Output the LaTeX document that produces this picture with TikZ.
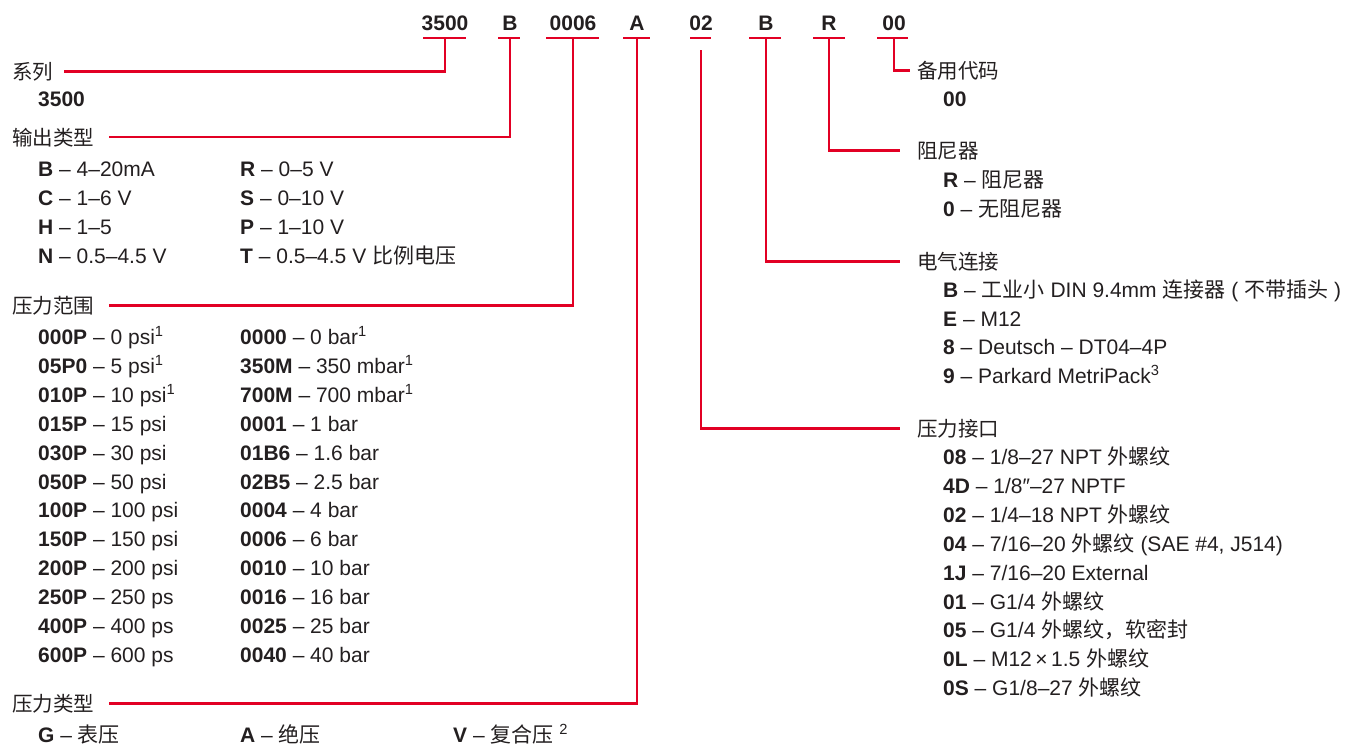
\documentclass[tikz,border=0pt]{standalone}
\usepackage{fontspec}
\setmainfont{Liberation Sans}
\newfontfamily\cjk{Noto Sans CJK SC}
\definecolor{lred}{RGB}{226,0,36}
\definecolor{ink}{RGB}{35,31,32}
\newcommand\kv[2]{\textbf{#1} -- #2}
\newcommand\sups[1]{\textsuperscript{#1}}
\begin{document}
\begin{tikzpicture}[x=1pt,y=-1pt,
  redline/.style={draw=lred,line width=2.6pt},
  txt/.style={anchor=base west,inner sep=0pt,text=ink,font=\fontsize{21}{24}\selectfont},
  hdr/.style={anchor=base west,inner sep=0pt,text=ink,font=\fontsize{20.5}{24}\selectfont\cjk},
  code/.style={anchor=base,inner sep=0pt,text=ink,font=\fontsize{21}{24}\selectfont\bfseries}]
\useasboundingbox (0,0) rectangle (1348,745);
% code row
\node[code] (c1) at (445,30) {3500};
\node[code] (c2) at (510,30) {B};
\node[code] (c3) at (573,30) {0006};
\node[code] (c4) at (637,30) {A};
\node[code] (c5) at (701,30) {02};
\node[code] (c6) at (766,30) {B};
\node[code] (c7) at (829,30) {R};
\node[code] (c8) at (894,30) {00};
\coordinate (s1) at (445,38);
\coordinate (s2) at (510,38);
\coordinate (s3) at (573,38);
\coordinate (s4) at (637,38);
\coordinate (s5) at (701,38);
\coordinate (s5b) at (701,50);
\coordinate (s6) at (766,38);
\coordinate (s7) at (829,38);
\coordinate (s8) at (894,38);
\draw[redline] ([xshift=-22pt]s1) -- ([xshift=21pt]s1);
\draw[redline] ([xshift=-12pt]s2) -- ([xshift=10pt]s2);
\draw[redline] ([xshift=-27pt]s3) -- ([xshift=26pt]s3);
\draw[redline] ([xshift=-14pt]s4) -- ([xshift=13pt]s4);
\draw[redline] ([xshift=-11pt]s5) -- ([xshift=10pt]s5);
\draw[redline] ([xshift=-17pt]s6) -- ([xshift=15pt]s6);
\draw[redline] ([xshift=-16pt]s7) -- ([xshift=16pt]s7);
\draw[redline] ([xshift=-17pt]s8) -- ([xshift=14pt]s8);
% left headers
\node[hdr] (h1) at (12,79) {系列};
\node[hdr] (h2) at (12,145) {输出类型};
\node[hdr] (h3) at (12,313) {压力范围};
\node[hdr] (h4) at (12,711) {压力类型};
% right headers
\node[hdr] (h8) at (917,78) {备用代码};
\node[hdr] (h7) at (917,158) {阻尼器};
\node[hdr] (h6) at (917,269) {电气连接};
\node[hdr] (h5) at (917,436) {压力接口};
% connectors
\draw[redline] (s1) |- ([xshift=11pt]h1.east);
\draw[redline] (s2) |- ([xshift=15pt]h2.east);
\draw[redline] (s3) |- ([xshift=15pt]h3.east);
\draw[redline] (s4) |- ([xshift=15pt]h4.east);
\draw[redline] (s5b) |- ([xshift=-17pt]h5.west);
\draw[redline] (s6) |- ([xshift=-17pt]h6.west);
\draw[redline] (s7) |- ([xshift=-17pt]h7.west);
\draw[redline] (s8) |- ([xshift=-7pt]h8.west);
% series
\node[txt] (a1) at (38,106.5) {\textbf{3500}};
% output type
\node[txt] (b1) at (38,176.5) {\kv{B}{4--20mA}};
\node[txt] (b2) at (38,205.5) {\kv{C}{1--6 V}};
\node[txt] (b3) at (38,234.5) {\kv{H}{1--5}};
\node[txt] (b4) at (38,263.5) {\kv{N}{0.5--4.5 V}};
\node[txt] (b5) at (240,176.5) {\kv{R}{0--5 V}};
\node[txt] (b6) at (240,205.5) {\kv{S}{0--10 V}};
\node[txt] (b7) at (240,234.5) {\kv{P}{1--10 V}};
\node[txt] (b8) at (240,263.5) {\kv{T}{0.5--4.5 V {\cjk 比例电压}}};
% pressure range
\node[txt] (p1) at (38,344.5) {\kv{000P}{0 psi\sups{1}}};
\node[txt] (p2) at (38,373.4) {\kv{05P0}{5 psi\sups{1}}};
\node[txt] (p3) at (38,402.3) {\kv{010P}{10 psi\sups{1}}};
\node[txt] (p4) at (38,431.2) {\kv{015P}{15 psi}};
\node[txt] (p5) at (38,460.1) {\kv{030P}{30 psi}};
\node[txt] (p6) at (38,489.0) {\kv{050P}{50 psi}};
\node[txt] (p7) at (38,517.9) {\kv{100P}{100 psi}};
\node[txt] (p8) at (38,546.8) {\kv{150P}{150 psi}};
\node[txt] (p9) at (38,575.7) {\kv{200P}{200 psi}};
\node[txt] (p10) at (38,604.6) {\kv{250P}{250 ps}};
\node[txt] (p11) at (38,633.5) {\kv{400P}{400 ps}};
\node[txt] (p12) at (38,662.4) {\kv{600P}{600 ps}};
\node[txt] (q1) at (240,344.5) {\kv{0000}{0 bar\sups{1}}};
\node[txt] (q2) at (240,373.4) {\kv{350M}{350 mbar\sups{1}}};
\node[txt] (q3) at (240,402.3) {\kv{700M}{700 mbar\sups{1}}};
\node[txt] (q4) at (240,431.2) {\kv{0001}{1 bar}};
\node[txt] (q5) at (240,460.1) {\kv{01B6}{1.6 bar}};
\node[txt] (q6) at (240,489.0) {\kv{02B5}{2.5 bar}};
\node[txt] (q7) at (240,517.9) {\kv{0004}{4 bar}};
\node[txt] (q8) at (240,546.8) {\kv{0006}{6 bar}};
\node[txt] (q9) at (240,575.7) {\kv{0010}{10 bar}};
\node[txt] (q10) at (240,604.6) {\kv{0016}{16 bar}};
\node[txt] (q11) at (240,633.5) {\kv{0025}{25 bar}};
\node[txt] (q12) at (240,662.4) {\kv{0040}{40 bar}};
% pressure type
\node[txt] (t1) at (38,742.5) {\kv{G}{{\cjk 表压}}};
\node[txt] (t2) at (240,742.5) {\kv{A}{{\cjk 绝压}}};
\node[txt] (t3) at (453,742.5) {\kv{V}{{\cjk 复合压} \sups{2}}};
% spare code
\node[txt] (r1) at (943,106.5) {\textbf{00}};
% damper
\node[txt] (d1) at (943,187.5) {\kv{R}{{\cjk 阻尼器}}};
\node[txt] (d2) at (943,216.5) {\kv{0}{{\cjk 无阻尼器}}};
% electrical
\node[txt] (e1) at (943,297.5) {\kv{B}{{\cjk 工业小} DIN 9.4mm {\cjk 连接器} ( {\cjk 不带插头} )}};
\node[txt] (e2) at (943,326.5) {\kv{E}{M12}};
\node[txt] (e3) at (943,354.5) {\kv{8}{Deutsch -- DT04--4P}};
\node[txt] (e4) at (943,383.5) {\kv{9}{Parkard MetriPack\sups{3}}};
% pressure port
\node[txt] (f1) at (943,464.5) {\kv{08}{1/8--27 NPT {\cjk 外螺纹}}};
\node[txt] (f2) at (943,493.4) {\kv{4D}{1/8\char"2033--27 NPTF}};
\node[txt] (f3) at (943,522.3) {\kv{02}{1/4--18 NPT {\cjk 外螺纹}}};
\node[txt] (f4) at (943,551.2) {\kv{04}{7/16--20 {\cjk 外螺纹} (SAE \#4, J514)}};
\node[txt] (f5) at (943,580.1) {\kv{1J}{7/16--20 External}};
\node[txt] (f6) at (943,609.0) {\kv{01}{G1/4 {\cjk 外螺纹}}};
\node[txt] (f7) at (943,637.9) {\kv{05}{G1/4 {\cjk 外螺纹，软密封}}};
\node[txt] (f8) at (943,666.8) {\kv{0L}{M12\,×\,1.5 {\cjk 外螺纹}}};
\node[txt] (f9) at (943,695.7) {\kv{0S}{G1/8--27 {\cjk 外螺纹}}};
\end{tikzpicture}
\end{document}
